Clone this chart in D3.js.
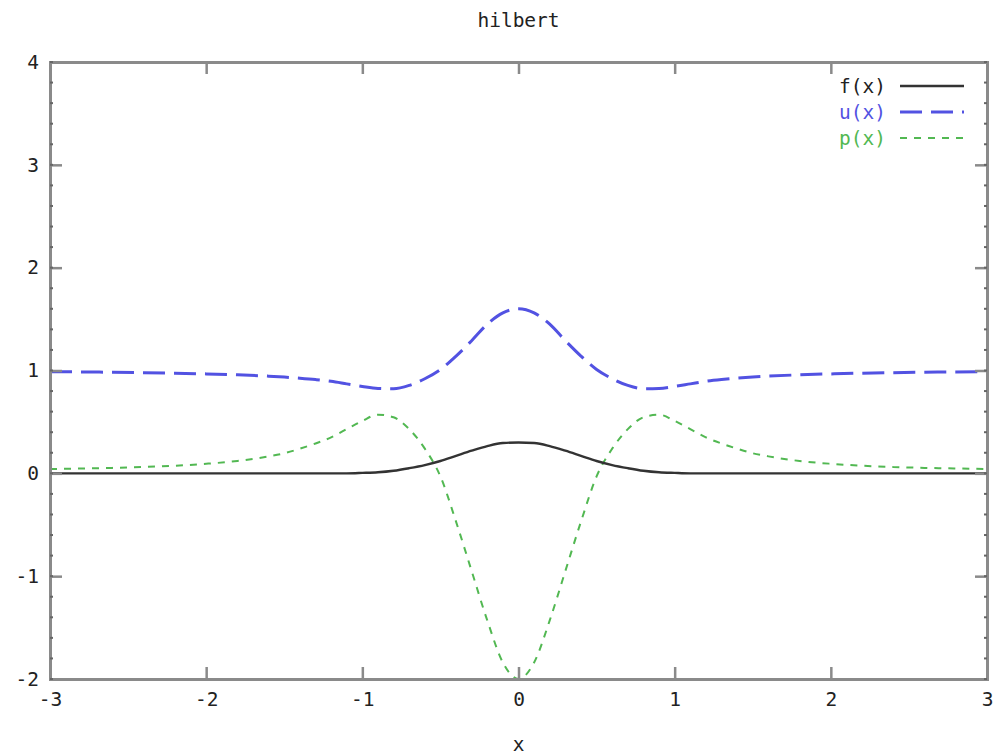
<!DOCTYPE html>
<html>
<head>
<meta charset="utf-8">
<script src="https://cdn.jsdelivr.net/npm/d3@7"></script>
<style>
  body { margin: 0; background: #fff; }
  text { font-family: "DejaVu Sans Mono", monospace; }
</style>
</head>
<body>
<div id="chart"></div>
<script>
const xs = [-3, -2.8, -2.6, -2.4, -2.2, -2, -1.8, -1.6, -1.5, -1.4, -1.3, -1.2, -1.1, -1, -0.9, -0.8, -0.7, -0.6, -0.5, -0.4, -0.3, -0.2, -0.1,
    0, 0.1, 0.2, 0.3, 0.4, 0.5, 0.6, 0.7, 0.8, 0.9, 1, 1.1, 1.2, 1.3, 1.4, 1.5, 1.6, 1.8, 2, 2.2, 2.4, 2.6, 2.8, 3];

const fVals = [0, 0, 0, 0, 0, 0, 0, 0, 0, 0, 0, 0, 0, 0.004, 0.01, 0.025, 0.05, 0.08, 0.12, 0.17, 0.22, 0.265, 0.295,
    0.30, 0.295, 0.265, 0.22, 0.17, 0.12, 0.08, 0.05, 0.025, 0.01, 0.004, 0, 0, 0, 0, 0, 0, 0, 0, 0, 0, 0, 0, 0];

const uVals = [0.988, 0.986, 0.983, 0.979, 0.974, 0.967, 0.958, 0.945, 0.936, 0.925, 0.912, 0.895, 0.87, 0.845, 0.826, 0.823, 0.855, 0.92, 1.01, 1.14, 1.29, 1.45, 1.56,
    1.60, 1.56, 1.45, 1.29, 1.14, 1.01, 0.92, 0.855, 0.823, 0.826, 0.845, 0.87, 0.895, 0.912, 0.925, 0.936, 0.945, 0.958, 0.967, 0.974, 0.979, 0.983, 0.986, 0.988];

const pVals = [0.042, 0.047, 0.053, 0.062, 0.074, 0.093, 0.12, 0.165, 0.195, 0.24, 0.29, 0.35, 0.43, 0.51, 0.57, 0.545, 0.43, 0.24, -0.03, -0.47, -0.95, -1.43, -1.84,
    -2.0, -1.84, -1.43, -0.95, -0.47, -0.03, 0.24, 0.43, 0.545, 0.57, 0.51, 0.43, 0.35, 0.29, 0.24, 0.195, 0.165, 0.12, 0.093, 0.074, 0.062, 0.053, 0.047, 0.042];

const seriesNames = ["f(x)", "u(x)", "p(x)"];
const xTicks = [-3, -2, -1, 0, 1, 2, 3];
const yTicks = [-2, -1, 0, 1, 2, 3, 4];

const W = 1004, H = 755;
const margin = {top: 62, right: 17, bottom: 76, left: 50};
const fontSize = "19.5px";

const svg = d3.select("#chart").append("svg")
    .attr("width", W)
    .attr("height", H);

const x = d3.scaleLinear().domain([-3, 3]).range([margin.left, W - margin.right]);
const y = d3.scaleLinear().domain([-2, 4]).range([H - margin.bottom, margin.top]);

const styles = [
    {color: "#333333", width: 2.4, dash: null},
    {color: "#5252e2", width: 3, dash: "22,9"},
    {color: "#52b852", width: 2, dash: "7,7"}
];

svg.append("clipPath").attr("id", "clip")
    .append("rect")
    .attr("x", x(-3)).attr("y", y(4))
    .attr("width", x(3) - x(-3)).attr("height", y(-2) - y(4));

const line = d3.line()
    .x(d => x(d[0]))
    .y(d => y(d[1]))
    .curve(d3.curveMonotoneX);

const series = [fVals, uVals, pVals];

// order: p underneath, then f, then u
[2, 0, 1].forEach(i => {
    svg.append("path")
        .datum(xs.map((v, j) => [v, series[i][j]]))
        .attr("clip-path", "url(#clip)")
        .attr("fill", "none")
        .attr("stroke", styles[i].color)
        .attr("stroke-width", styles[i].width)
        .attr("stroke-dasharray", styles[i].dash)
        .attr("d", line);
});

// border + ticks
const grey = "#8a8a8a";
const tickLen = 12;
const fmt = d => String(d);

const bottomAxis = svg.append("g")
    .attr("transform", `translate(0,${y(-2)})`)
    .call(d3.axisBottom(x).tickValues(xTicks).tickSize(-tickLen).tickPadding(18).tickFormat(fmt));
const topAxis = svg.append("g")
    .attr("transform", `translate(0,${y(4)})`)
    .call(d3.axisTop(x).tickValues(xTicks).tickSize(-tickLen).tickFormat(""));
const leftAxis = svg.append("g")
    .attr("transform", `translate(${x(-3)},0)`)
    .call(d3.axisLeft(y).tickValues(yTicks).tickSize(-tickLen).tickPadding(16).tickFormat(fmt));
const rightAxis = svg.append("g")
    .attr("transform", `translate(${x(3)},0)`)
    .call(d3.axisRight(y).tickValues(yTicks).tickSize(-tickLen).tickFormat(""));

[bottomAxis, topAxis, leftAxis, rightAxis].forEach(g => {
    g.select(".domain").attr("stroke", grey).attr("stroke-width", 3);
    g.selectAll(".tick line").attr("stroke", grey).attr("stroke-width", 2.5);
    g.selectAll(".tick text")
        .attr("fill", "#222")
        .style("font-family", "DejaVu Sans Mono, monospace")
        .style("font-size", fontSize);
});
bottomAxis.selectAll(".tick text").attr("dy", "0.45em");
leftAxis.selectAll(".tick text").attr("x", -11);

// minor ticks on y
const minorY = d3.range(-2, 4.001, 0.2);
[x(-3), x(3)].forEach((xp, k) => {
    svg.append("g").selectAll("line")
        .data(minorY)
        .join("line")
        .attr("x1", xp)
        .attr("x2", k === 0 ? xp + 3 : xp - 3)
        .attr("y1", d => y(d))
        .attr("y2", d => y(d))
        .attr("stroke", "#666")
        .attr("stroke-width", 2);
});

// title and axis label
svg.append("text")
    .attr("x", x(0))
    .attr("y", 27)
    .attr("text-anchor", "middle")
    .attr("fill", "#222")
    .style("font-size", fontSize)
    .text("hilbert");

svg.append("text")
    .attr("x", x(0))
    .attr("y", 751)
    .attr("text-anchor", "middle")
    .attr("fill", "#222")
    .style("font-size", fontSize)
    .text("x");

// legend
const legend = svg.append("g").attr("transform", "translate(886, 86)");
seriesNames.forEach((n, i) => {
    const g = legend.append("g").attr("transform", `translate(0, ${i * 26})`);
    g.append("text")
        .attr("x", 0)
        .attr("y", 0)
        .attr("dy", "0.35em")
        .attr("text-anchor", "end")
        .attr("fill", i === 0 ? "#222" : styles[i].color)
        .style("font-size", fontSize)
        .text(n);
    g.append("line")
        .attr("x1", 14)
        .attr("x2", 78)
        .attr("stroke", styles[i].color)
        .attr("stroke-width", styles[i].width)
        .attr("stroke-dasharray", styles[i].dash);
});
</script>
</body>
</html>
